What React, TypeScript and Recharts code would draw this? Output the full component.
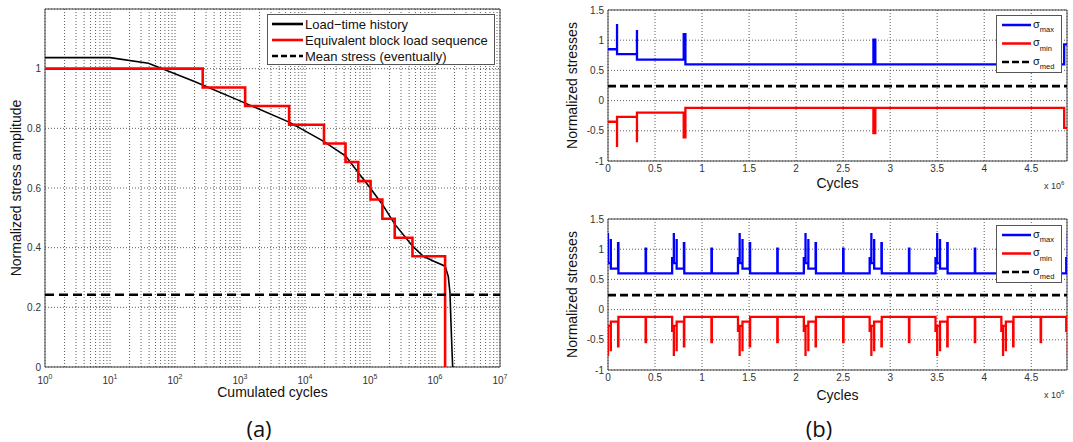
import React from 'react';
import { LineChart, Line, XAxis, YAxis, CartesianGrid, ReferenceArea } from 'recharts';

// ---- (a) cumulated load spectrum ----
const historyCycles = [1, 10, 39, 191, 1000, 5800, 19100, 42300, 66200, 1e5, 1.55e5, 2.42e5, 4.53e5, 6.61e5, 9.42e5, 1.43e6, 1.6e6, 1.7e6, 1.76e6, 1.83e6, 1.87e6];
const historyAmp = [1.037, 1.037, 1.018, 0.959, 0.892, 0.82, 0.757, 0.707, 0.651, 0.601, 0.545, 0.478, 0.405, 0.371, 0.355, 0.338, 0.304, 0.248, 0.15, 0.05, 0];

const blockCycles = [1, 267, 1200, 5700, 19600, 42000, 66000, 102000, 155000, 240000, 450000, 1.43e6];
const blockAmp = [1, 0.937, 0.875, 0.812, 0.749, 0.687, 0.623, 0.5615, 0.497, 0.433, 0.371, 0];

const meanAmp = 0.242;
const decades = [1, 10, 100, 1000, 1e4, 1e5, 1e6];
const minorSteps = [1, 2, 3, 4, 5, 6, 7, 8, 9];
const ampTicks = [0, 0.2, 0.4, 0.6, 0.8, 1];

// ---- (b) load sequences, cycles in millions ----
const seqCycles = [0, 0.096, 0.096, 0.308, 0.308, 0.805, 0.823, 2.822, 2.842, 4.85, 4.88];
const seqMax = [0.85, 1.27, 0.77, 1.17, 0.68, 1.1, 0.6, 1.01, 0.6, 0.93, 0.93];
const seqMin = [-0.35, -0.77, -0.27, -0.69, -0.2, -0.61, -0.12, -0.54, -0.12, -0.45, -0.45];

// repeated (shuffled) block: start of each block and the levels inside one block
const blockStarts = [-0.018, 0.682, 1.382, 2.082, 2.782, 3.482, 4.182, 4.872];
const blockOffsets = [0, 0.018, 0.018, 0.048, 0.048, 0.125, 0.129, 0.418, 0.422];
const blockMax = [0.85, 1.27, 0.77, 1.17, 0.68, 1.1, 0.6, 1.01, 0.6];
const blockMin = [-0.35, -0.77, -0.27, -0.69, -0.2, -0.61, -0.12, -0.54, -0.12];

const medStress = 0.24;
const cycleTicks = [0, 0.5, 1, 1.5, 2, 2.5, 3, 3.5, 4, 4.5];
const stressTicks = [-1, -0.5, 0, 0.5, 1, 1.5];
const cycleEnd = 4.88;

const FONT = '"Liberation Sans", Arial, Helvetica, sans-serif';
const GRID = { stroke: '#333', strokeDasharray: '1 2', strokeWidth: 0.8 };

const historyData = historyCycles.map((x, i) => ({ x, y: historyAmp[i] }));
const blockData = blockCycles.map((x, i) => ({ x, y: blockAmp[i] }));
const meanData = [{ x: 1, y: meanAmp }, { x: 1e7, y: meanAmp }];
const logTicks = [...decades.flatMap(d => minorSteps.map(m => m * d)), 1e7];

const seqMaxData = seqCycles.map((x, i) => ({ x, y: seqMax[i] }));
const seqMinData = seqCycles.map((x, i) => ({ x, y: seqMin[i] }));
const repMaxData = blockStarts.flatMap(s => blockOffsets.map((d, i) => ({ x: s + d, y: blockMax[i] })));
const repMinData = blockStarts.flatMap(s => blockOffsets.map((d, i) => ({ x: s + d, y: blockMin[i] })));
const medData = [{ x: 0, y: medStress }, { x: cycleEnd, y: medStress }];

function LogTick(props: any) {
    const { x, y, payload } = props;
    const v = payload.value;
    const e = Math.round(Math.log10(v));
    if (Math.abs(Math.pow(10, e) - v) > 1e-6 * v) return <g />;
    return (
        <text x={x} y={y + 9} textAnchor="middle" fontSize={10} fill="#333" fontFamily={FONT}>
            <tspan>10</tspan>
            <tspan dy={-5} fontSize={7}>{e}</tspan>
        </text>
    );
}

function SpectrumChart() {
    return (
        <LineChart width={520} height={442} margin={{ top: 9, right: 20, bottom: 45, left: 0 }}>
            <CartesianGrid {...GRID} />
            <XAxis dataKey="x" type="number" scale="log" domain={[1, 1e7]} ticks={logTicks} interval={0}
                allowDataOverflow tick={<LogTick />} tickLine={false} axisLine={false} height={30}
                label={{ value: 'Cumulated cycles', position: 'bottom', offset: -10, fontSize: 14, fill: '#111', fontFamily: FONT }} />
            <YAxis type="number" domain={[0, 1.2]} ticks={ampTicks} interval={0} allowDataOverflow
                tickLine={false} axisLine={false} width={45} tickSize={2} tickMargin={2}
                tick={{ fontSize: 10, fill: '#333', fontFamily: FONT }}
                label={{ value: 'Normalized stress amplitude', angle: -90, position: 'insideLeft', offset: 16, fontSize: 14, fill: '#111', fontFamily: FONT, style: { textAnchor: 'middle' } }} />
            <ReferenceArea x1={1} x2={1e7} y1={0} y2={1.2} fill="none" stroke="#444" strokeWidth={1} />
            <Line data={historyData} dataKey="y" type="linear" stroke="#000" strokeWidth={1.6} dot={false} isAnimationActive={false} />
            <Line data={blockData} dataKey="y" type="stepAfter" stroke="#ff0000" strokeWidth={2.6} dot={false} isAnimationActive={false} />
            <Line data={meanData} dataKey="y" type="linear" stroke="#000" strokeWidth={2.6} strokeDasharray="9 5" dot={false} isAnimationActive={false} />
        </LineChart>
    );
}

function StressChart({ maxData, minData, labelOffset }: { maxData: any[]; minData: any[]; labelOffset: number }) {
    return (
        <LineChart width={513} height={200} margin={{ top: 10, right: 6, bottom: 19, left: 0 }}>
            <CartesianGrid {...GRID} />
            <XAxis dataKey="x" type="number" domain={[0, cycleEnd]} ticks={cycleTicks} interval={0} allowDataOverflow
                tickLine={false} axisLine={false} height={20} tickSize={2} tickMargin={2}
                tick={{ fontSize: 10, fill: '#333', fontFamily: FONT }}
                label={{ value: 'Cycles', position: 'bottom', offset: labelOffset, fontSize: 14, fill: '#111', fontFamily: FONT }} />
            <YAxis type="number" domain={[-1, 1.5]} ticks={stressTicks} interval={0} allowDataOverflow
                tickLine={false} axisLine={false} width={48} tickSize={2} tickMargin={2}
                tick={{ fontSize: 10, fill: '#333', fontFamily: FONT }}
                label={{ value: 'Normalized stresses', angle: -90, position: 'insideLeft', offset: 12, fontSize: 14, fill: '#111', fontFamily: FONT, style: { textAnchor: 'middle' } }} />
            <ReferenceArea x1={0} x2={cycleEnd} y1={-1} y2={1.5} fill="none" stroke="#444" strokeWidth={1} />
            <Line data={maxData} dataKey="y" type="stepAfter" stroke="#0000ff" strokeWidth={2.3} dot={false} isAnimationActive={false} />
            <Line data={minData} dataKey="y" type="stepAfter" stroke="#ff0000" strokeWidth={2.3} dot={false} isAnimationActive={false} />
            <Line data={medData} dataKey="y" type="linear" stroke="#000" strokeWidth={2.6} strokeDasharray="8 4" dot={false} isAnimationActive={false} />
        </LineChart>
    );
}

function LegendA() {
    const rows = [
        { label: 'Load\u2212time history', color: '#000', dash: undefined },
        { label: 'Equivalent block load sequence', color: '#ff0000', dash: undefined },
        { label: 'Mean stress (eventually)', color: '#000', dash: '6 3' },
    ];
    return (
        <svg width={228} height={51} style={{ position: 'absolute', left: 267, top: 14 }}>
            <rect x={0.5} y={0.5} width={227} height={50} fill="#fff" stroke="#555" />
            {rows.map((r, i) => {
                const cy = 10 + i * 16;
                return (
                    <g key={i}>
                        <line x1={5} x2={36} y1={cy} y2={cy} stroke={r.color} strokeWidth={2.6} strokeDasharray={r.dash} />
                        <text x={38} y={cy + 4.5} fontSize={13} fill="#111" fontFamily={FONT}>{r.label}</text>
                    </g>
                );
            })}
        </svg>
    );
}

function LegendB({ top }: { top: number }) {
    const rows = [
        { sub: 'max', color: '#0000ff', dash: undefined },
        { sub: 'min', color: '#ff0000', dash: undefined },
        { sub: 'med', color: '#000', dash: '7 3' },
    ];
    return (
        <svg width={66} height={58} style={{ position: 'absolute', left: 996, top }}>
            <rect x={0.5} y={0.5} width={65} height={57} fill="#fff" stroke="#555" />
            {rows.map((r, i) => {
                const cy = 10 + i * 18.5;
                return (
                    <g key={i}>
                        <line x1={6} x2={35} y1={cy} y2={cy} stroke={r.color} strokeWidth={2.5} strokeDasharray={r.dash} />
                        <text x={37} y={cy + 2.5} fontSize={11} fill="#111" fontFamily={FONT}>
                            σ<tspan dy={4.5} fontSize={7.5}>{r.sub}</tspan>
                        </text>
                    </g>
                );
            })}
        </svg>
    );
}

function Exponent({ top }: { top: number }) {
    return (
        <div style={{ position: 'absolute', left: 1044, top, fontSize: 9, color: '#333', fontFamily: FONT, whiteSpace: 'nowrap' }}>
            x 10<sup style={{ fontSize: 6 }}>6</sup>
        </div>
    );
}

export default function App() {
    return (
        <div style={{ position: 'absolute', left: 0, top: 0, width: 1073, height: 442, background: '#fff', overflow: 'hidden', fontFamily: FONT }}>
            <div style={{ position: 'absolute', left: 0, top: 0 }}>
                <SpectrumChart />
            </div>
            <div style={{ position: 'absolute', left: 560, top: 0 }}>
                <StressChart maxData={seqMaxData} minData={seqMinData} labelOffset={-3} />
            </div>
            <div style={{ position: 'absolute', left: 560, top: 209 }}>
                <StressChart maxData={repMaxData} minData={repMinData} labelOffset={0} />
            </div>
            <LegendA />
            <LegendB top={15} />
            <LegendB top={225} />
            <Exponent top={180} />
            <Exponent top={389} />
            <div style={{ position: 'absolute', left: 259, top: 428, transform: 'translate(-50%, -50%)', fontSize: 22, color: '#111', fontFamily: '"Open Sans", sans-serif' }}>(a)</div>
            <div style={{ position: 'absolute', left: 819, top: 428, transform: 'translate(-50%, -50%)', fontSize: 22, color: '#111', fontFamily: '"Open Sans", sans-serif' }}>(b)</div>
        </div>
    );
}
